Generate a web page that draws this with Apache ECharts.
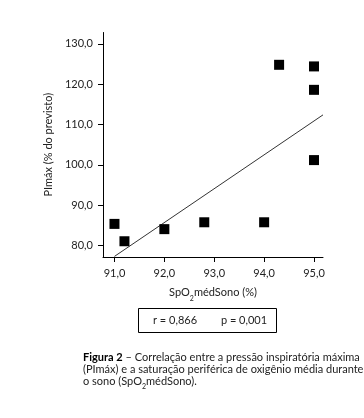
<!DOCTYPE html>
<html><head><meta charset="utf-8">
<script src="https://cdn.jsdelivr.net/npm/echarts@6/dist/echarts.min.js"></script>
<style>html,body{margin:0;padding:0;background:#fff}#c{width:364px;height:418px}</style>
</head><body><div id="c"></div>
<script>
// Data
const spo2 = [91.0, 91.2, 92.0, 92.8, 94.0, 94.3, 95.0, 95.0, 95.0];
const pimax = [85.4, 81.1, 84.1, 85.8, 85.8, 124.8, 124.4, 118.6, 101.2];
const fitX = [91.0, 95.18];
const fitY = [77.35, 112.4];
const xTicks = [91, 92, 93, 94, 95];
const yTicks = [80, 90, 100, 110, 120, 130];
const statR = 'r = 0,866';
const statP = 'p = 0,001';
const yName = 'PImáx (% do previsto)';
const captionLines = [
  '{b|Figura 2} – Correlação entre a pressão inspiratória máxima',
  '(PImáx) e a saturação periférica de oxigênio média durante',
  'o sono (SpO{s|2}médSono).'
];

const FONT = 'Lato, "Open Sans", sans-serif';
const fmt = v => v.toFixed(1).replace('.', ',');

const chart = echarts.init(document.getElementById('c'), null, {renderer: 'canvas'});
chart.setOption({
  animation: false,
  backgroundColor: '#fff',
  grid: {left: 103, top: 32.5, right: 41, bottom: 161, containLabel: false},
  xAxis: {
    type: 'value', min: 90.77, max: 95.18,
    name: '{a|SpO}{s|2}{a|médSono (%)}',
    nameLocation: 'middle', nameGap: 28,
    nameTextStyle: {rich: {
      a: {fontFamily: FONT, fontSize: 11, color: '#222', lineHeight: 14},
      s: {fontFamily: FONT, fontSize: 7, color: '#222', verticalAlign: 'bottom', lineHeight: 14, padding: [0,0,-3,0]}
    }},
    splitLine: {show: false},
    axisLine: {onZero: false, lineStyle: {color: '#000', width: 1}},
    axisTick: {show: true, inside: false, length: 5, customValues: xTicks, lineStyle: {color: '#000'}},
    axisLabel: {customValues: xTicks, formatter: fmt, margin: 11, fontFamily: FONT, fontSize: 11, color: '#222'}
  },
  yAxis: {
    type: 'value', min: 77.2, max: 132.8,
    name: yName, nameLocation: 'middle', nameGap: 48, nameRotate: 90,
    nameTextStyle: {fontFamily: FONT, fontSize: 11, color: '#222'},
    splitLine: {show: false},
    axisLine: {show: true, onZero: false, lineStyle: {color: '#000', width: 1}},
    axisTick: {show: true, inside: false, length: 5, customValues: yTicks, lineStyle: {color: '#000'}},
    axisLabel: {customValues: yTicks, formatter: fmt, margin: 10, fontFamily: FONT, fontSize: 11, color: '#222'}
  },
  series: [
    {
      type: 'line', data: fitX.map((x, i) => [x, fitY[i]]),
      symbol: 'none', lineStyle: {color: '#333', width: 1}, silent: true, z: 1
    },
    {
      type: 'scatter', data: spo2.map((x, i) => [x, pimax[i]]),
      symbol: 'rect', symbolSize: 10, itemStyle: {color: '#000', opacity: 1}, z: 2
    }
  ],
  graphic: [
    {type: 'rect', shape: {x: 138.5, y: 308.5, width: 138, height: 24},
     style: {fill: null, stroke: '#000', lineWidth: 1}},
    {type: 'text', x: 175, y: 320.5,
     style: {text: statR, fontFamily: FONT, fontSize: 11, fill: '#222', align: 'center', verticalAlign: 'middle'}},
    {type: 'text', x: 244, y: 320.5,
     style: {text: statP, fontFamily: FONT, fontSize: 11, fill: '#222', align: 'center', verticalAlign: 'middle'}},
    {type: 'text', x: 83, y: 351,
     style: {
       text: captionLines.join('\n'), fontFamily: FONT, fontSize: 11, fill: '#222', lineHeight: 12,
       rich: {
         b: {fontFamily: FONT, fontSize: 11, fontWeight: 'bold', fill: '#000', lineHeight: 12},
         s: {fontFamily: FONT, fontSize: 7, fill: '#222', verticalAlign: 'bottom', lineHeight: 12, padding: [0,0,-3,0]}
       }
     }}
  ]
});
</script>
</body></html>
